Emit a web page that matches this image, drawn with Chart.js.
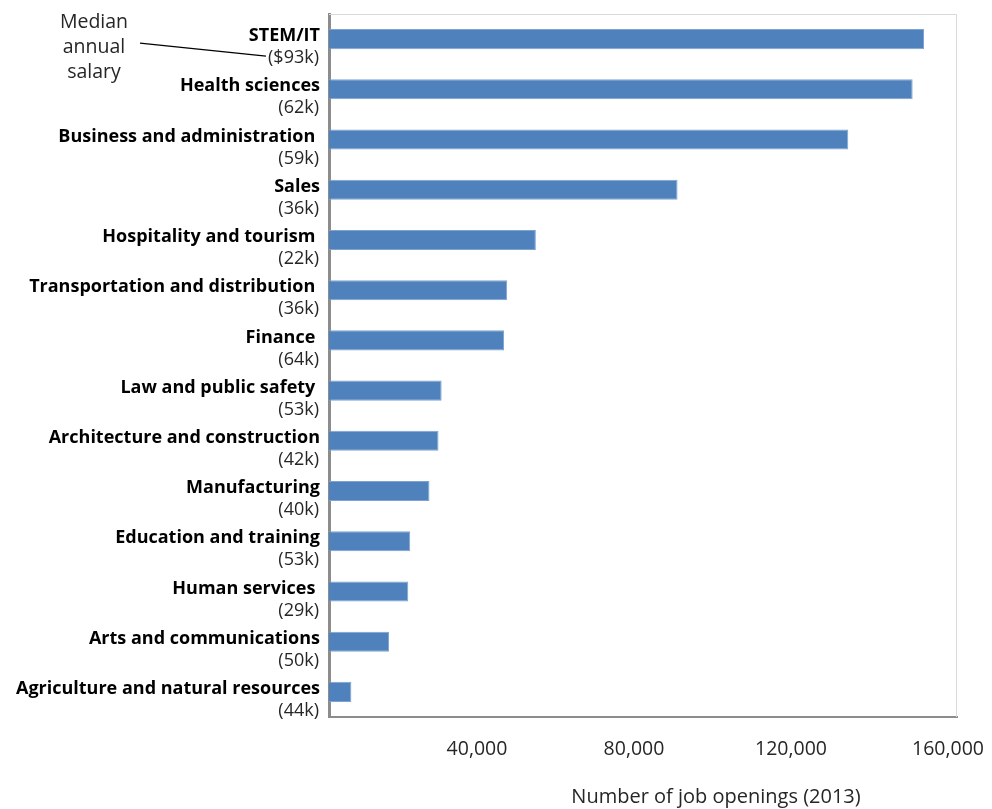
<!DOCTYPE html>
<html>
<head>
<meta charset="utf-8">
<script src="https://cdn.jsdelivr.net/npm/chart.js@4"></script>
<style>
  body { margin: 0; background: #fff; }
  canvas { display: block; }
</style>
</head>
<body>
<canvas id="jobs__chart" width="992" height="809"></canvas>
<script>
const categories = [
    'STEM/IT',
    'Health sciences',
    'Business and administration ',
    'Sales',
    'Hospitality and tourism ',
    'Transportation and distribution ',
    'Finance ',
    'Law and public safety ',
    'Architecture and construction',
    'Manufacturing',
    'Education and training',
    'Human services ',
    'Arts and communications',
    'Agriculture and natural resources',
];
const salaries = ['($93k)', '(62k)', '(59k)', '(36k)', '(22k)', '(36k)', '(64k)', '(53k)', '(42k)', '(40k)', '(53k)', '(29k)', '(50k)', '(44k)'];
const jobOpenings = [151600, 148700, 132300, 88800, 52700, 45400, 44600, 28700, 27900, 25600, 20700, 20200, 15300, 5700];
const xTicks = [40000, 80000, 120000, 160000];

const FONT = "'Open Sans', 'Noto Sans', sans-serif";
const jobsChartEle = document.getElementById('jobs__chart');

// salary line under each category + the "Median annual salary" callout + x title
const extraText = {
    id: 'extraText',
    beforeDatasetsDraw(chart) {
        const { ctx, chartArea } = chart;
        ctx.save();
        ctx.strokeStyle = '#d9d9d9';
        ctx.lineWidth = 1;
        ctx.beginPath();
        ctx.moveTo(chartArea.left, chartArea.top + 0.5);
        ctx.lineTo(chartArea.right - 0.5, chartArea.top + 0.5);
        ctx.lineTo(chartArea.right - 0.5, chartArea.bottom);
        ctx.stroke();
        ctx.restore();
    },
    afterDraw(chart) {
        const { ctx, chartArea } = chart;
        const y = chart.scales.y;
        ctx.save();
        ctx.fillStyle = '#262626';
        ctx.font = '18px ' + FONT;
        ctx.textAlign = 'right';
        ctx.textBaseline = 'middle';
        salaries.forEach((s, i) => {
            ctx.fillText(s, chartArea.left - 10, y.getPixelForValue(i) + 19);
        });

        const firstY = y.getPixelForValue(0) + 17;
        ctx.strokeStyle = '#000';
        ctx.lineWidth = 1.2;
        ctx.beginPath();
        ctx.moveTo(140, firstY - 13);
        ctx.lineTo(266, firstY);
        ctx.stroke();

        ctx.fillStyle = '#262626';
        ctx.font = '19.5px ' + FONT;
        ctx.textAlign = 'center';
        ['Median', 'annual', 'salary'].forEach((t, i) => {
            ctx.fillText(t, 94, 22 + i * 25);
        });

        ctx.font = '20px ' + FONT;
        ctx.fillText('Number of job openings (2013)', (chartArea.left + chartArea.right) / 2 + 73, 797);
        ctx.restore();
    },
};

const jobsChart = new Chart(jobsChartEle, {
    type: 'bar',
    data: {
        labels: categories,
        datasets: [
            {
                label: 'Number of job openings (2013)',
                data: jobOpenings,
                backgroundColor: '#4f81bd',
                borderColor: '#7ea3d0',
                borderWidth: 1,
                borderSkipped: 'start',
                categoryPercentage: 1,
                barPercentage: 0.4,
            },
        ],
    },
    options: {
        indexAxis: 'y',
        responsive: false,
        animation: false,
        layout: {
            padding: { top: 14, right: 35, bottom: 0, left: 0 },
        },
        plugins: {
            legend: { display: false },
            tooltip: { enabled: false },
        },
        scales: {
            x: {
                min: 0,
                max: 160000,
                afterBuildTicks: (scale) => {
                    scale.ticks = xTicks.map((v) => ({ value: v }));
                },
                afterFit: (scale) => {
                    scale.height = 92;
                    scale.paddingLeft = 0;
                    scale.paddingRight = 0;
                },
                grid: { display: false, drawTicks: false },
                border: { color: '#8c8c8c', width: 2 },
                ticks: {
                    padding: 21,
                    labelOffset: -9,
                    color: '#262626',
                    font: { family: FONT, size: 19.5 },
                    maxRotation: 0,
                    callback: (v) => v.toLocaleString('en-US'),
                },
            },
            y: {
                afterFit: (scale) => {
                    scale.width = 329;
                    scale.paddingTop = 0;
                    scale.paddingBottom = 0;
                },
                grid: { display: false, drawTicks: false },
                border: { color: '#8c8c8c', width: 3 },
                ticks: {
                    autoSkip: false,
                    padding: 9,
                    labelOffset: -3,
                    color: '#000',
                    font: { family: FONT, size: 18, weight: 'bold' },
                },
            },
        },
    },
    plugins: [extraText],
});
</script>
</body>
</html>
